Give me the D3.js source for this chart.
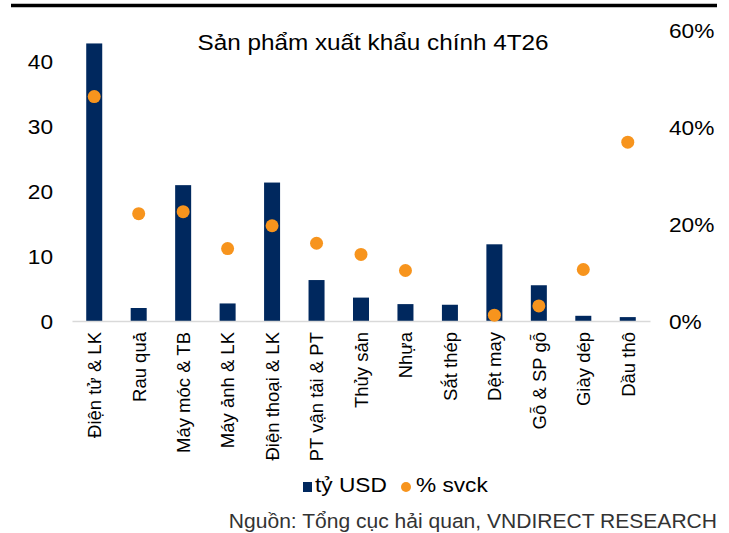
<!DOCTYPE html>
<html>
<head>
<meta charset="utf-8">
<script src="https://cdn.jsdelivr.net/npm/d3@7"></script>
<style>
  html, body { margin: 0; padding: 0; background: #fff; }
  svg { display: block; font-family: "Liberation Sans", Arial, sans-serif; }
</style>
</head>
<body>
<svg id="chart" width="729" height="533"></svg>
<script>
const categories = ["Điện tử & LK","Rau quả","Máy móc & TB","Máy ảnh & LK","Điện thoại & LK","PT vận tải & PT","Thủy sản","Nhựa","Sắt thép","Dệt may","Gỗ & SP gỗ","Giày dép","Dầu thô"];
const exportValues = [42.7, 2.0, 20.9, 2.7, 21.3, 6.3, 3.6, 2.6, 2.5, 11.8, 5.5, 0.8, 0.6];   // tỷ USD
const yoyGrowth = [46.2, 22.1, 22.5, 14.9, 19.6, 16.0, 13.7, 10.4, null, 1.2, 3.1, 10.6, 36.8]; // % svck
const leftTicks = [0, 10, 20, 30, 40];
const rightTicks = [0, 20, 40, 60];
const title = "Sản phẩm xuất khẩu chính 4T26";
const legendLabels = ["tỷ USD", "% svck"];
const sourceText = "Nguồn: Tổng cục hải quan, VNDIRECT RESEARCH";

const BAR = "#00285e", DOT = "#f7941d";
const SX = 1.08;
const svg = d3.select("#chart");

const x = d3.scaleBand().domain(categories).range([72, 650]).paddingInner(0.64).paddingOuter(0.32);
const yL = d3.scaleLinear().domain([0, 40]).range([321, 61]);
const yR = d3.scaleLinear().domain([0, 60]).range([321, 29.5]);

// top rule
svg.append("line").attr("x1", 11).attr("x2", 717).attr("y1", 5.5).attr("y2", 5.5)
  .attr("stroke", "#000").attr("stroke-width", 3.5);

function htext(xp, yp, str, size, anchor) {
  const g = svg.append("g").attr("transform", `translate(${xp},${yp})`);
  return g.append("text").attr("transform", `scale(${SX},1)`).attr("text-anchor", anchor)
    .attr("font-size", size).attr("fill", "#000").text(str);
}

// title
htext(373, 50, title, 22.5, "middle");

// bars
svg.append("g").selectAll("rect").data(categories).join("rect")
  .attr("x", d => x(d)).attr("width", x.bandwidth())
  .attr("y", (d, i) => yL(exportValues[i]))
  .attr("height", (d, i) => yL(0) - yL(exportValues[i]))
  .attr("fill", BAR);

// x axis
const gx = svg.append("g").attr("transform", "translate(0,321)")
  .call(d3.axisBottom(x).tickSize(0).tickSizeOuter(0));
gx.select(".domain").attr("stroke", "#d9d9d9").attr("stroke-width", 1.5);
gx.selectAll("text")
  .attr("y", 0).attr("x", -11).attr("dy", "0.37em")
  .attr("transform", "rotate(-90)")
  .style("text-anchor", "end")
  .attr("font-size", 18.5).attr("fill", "#000")
  .attr("font-family", "Liberation Sans, Arial, sans-serif");

// dots
svg.append("g").selectAll("circle").data(categories.filter((d, i) => yoyGrowth[i] != null)).join("circle")
  .attr("cx", d => x(d) + x.bandwidth() / 2)
  .attr("cy", d => yR(yoyGrowth[categories.indexOf(d)]))
  .attr("r", 6.5).attr("fill", DOT);

// left axis
const gl = svg.append("g").attr("transform", "translate(53,0)")
  .call(d3.axisLeft(yL).tickValues(leftTicks).tickSize(0).tickPadding(0));
gl.select(".domain").remove();
gl.selectAll("text").attr("font-size", 21).attr("fill", "#000").attr("dy", "0.36em")
  .attr("font-family", "Liberation Sans, Arial, sans-serif")
  .attr("transform", `scale(${SX},1)`);

// right axis
const gr = svg.append("g").attr("transform", "translate(669,0)")
  .call(d3.axisRight(yR).tickValues(rightTicks).tickSize(0).tickPadding(0).tickFormat(d => d + "%"));
gr.select(".domain").remove();
gr.selectAll("text").attr("font-size", 21).attr("fill", "#000").attr("dy", "0.36em")
  .attr("font-family", "Liberation Sans, Arial, sans-serif")
  .attr("transform", `scale(${SX},1)`);

// legend
svg.append("rect").attr("x", 303).attr("y", 482).attr("width", 9).attr("height", 10).attr("fill", BAR);
htext(315, 492, legendLabels[0], 21, "start");
svg.append("circle").attr("cx", 406).attr("cy", 487).attr("r", 5).attr("fill", DOT);
htext(416, 492, legendLabels[1], 21, "start");

// source
htext(717, 528, sourceText, 19.5, "end").attr("fill", "#333");
</script>
</body>
</html>
